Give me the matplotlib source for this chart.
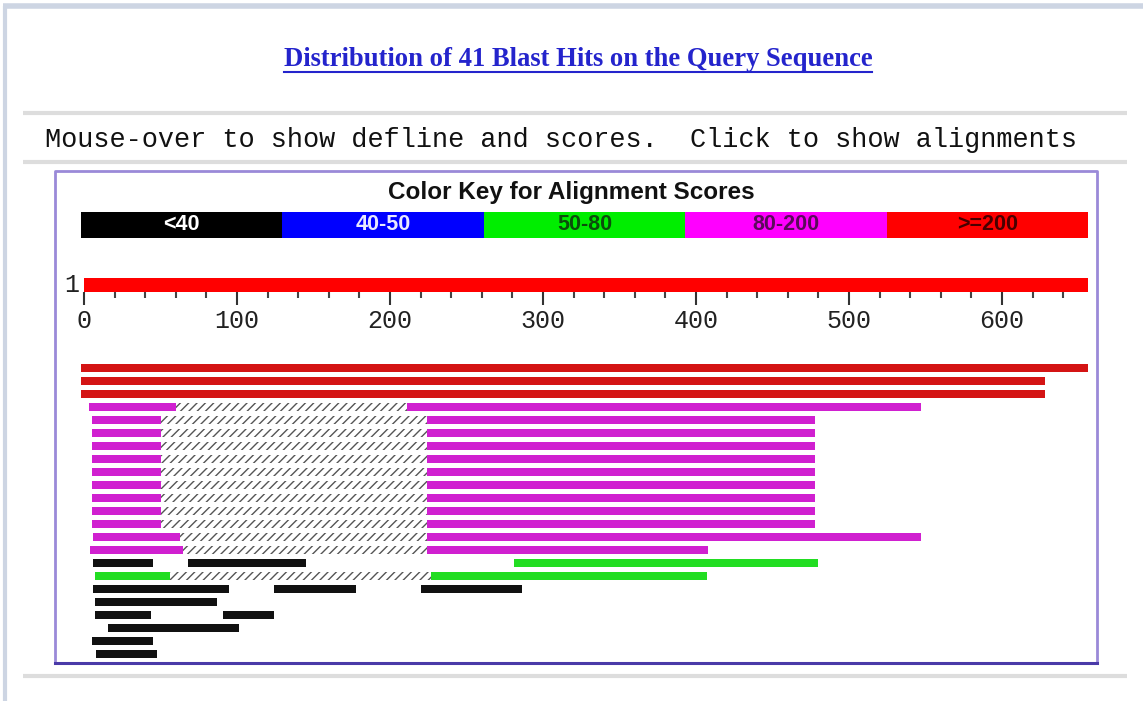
import numpy as np
import matplotlib.pyplot as plt

W, H = 1143, 701

# colour key of the alignment scores
key_labels = ['<40', '40-50', '50-80', '80-200', '>=200']
key_colors = ['#000000', '#0000ff', '#00ee00', '#ff00ff', '#ff0000']
key_text_colors = ['#ffffff', '#e8e8ff', '#0b4d0b', '#5a0a5a', '#4a0000']
hit_colors = {'<40': '#111111', '50-80': '#22dd22', '80-200': '#d020d0', '>=200': '#d41414'}

# query ruler
query_len = 656
ruler_major = [0, 100, 200, 300, 400, 500, 600]
ruler_minor = [20, 40, 60, 80, 120, 140, 160, 180, 220, 240, 260, 280, 320, 340, 360, 380,
               420, 440, 460, 480, 520, 540, 560, 580, 620, 640]

# aligned segments: graphic row, query start, query end, score class
seg_row = [0, 1, 2,
           3, 3,
           4, 4, 5, 5, 6, 6, 7, 7, 8, 8, 9, 9, 10, 10, 11, 11, 12, 12,
           13, 13, 14, 14,
           15, 15, 15,
           16, 16,
           17, 17, 17,
           18, 19, 19, 20, 21, 22]
seg_start = [-2, -2, -2,
             3, 211,
             5, 224, 5, 224, 5, 224, 5, 224, 5, 224, 5, 224, 5, 224, 5, 224, 5, 224,
             6, 224, 4, 224,
             6, 68, 281,
             7, 227,
             6, 124, 220,
             7, 7, 91, 16, 5, 8]
seg_end = [656, 628, 628,
           60, 547,
           50, 478, 50, 478, 50, 478, 50, 478, 50, 478, 50, 478, 50, 478, 50, 478, 50, 478,
           63, 547, 65, 408,
           45, 145, 480,
           56, 407,
           95, 178, 286,
           87, 44, 124, 101, 45, 48]
seg_score = ['>=200', '>=200', '>=200',
             '80-200', '80-200',
             '80-200', '80-200', '80-200', '80-200', '80-200', '80-200', '80-200', '80-200',
             '80-200', '80-200', '80-200', '80-200', '80-200', '80-200', '80-200', '80-200',
             '80-200', '80-200',
             '80-200', '80-200', '80-200', '80-200',
             '<40', '<40', '50-80',
             '50-80', '50-80',
             '<40', '<40', '<40',
             '<40', '<40', '<40', '<40', '<40', '<40']

# gaps between segments of the same hit (hatched)
gap_row = [3, 4, 5, 6, 7, 8, 9, 10, 11, 12, 13, 14, 16]
gap_start = [60, 50, 50, 50, 50, 50, 50, 50, 50, 50, 63, 65, 56]
gap_end = [211, 224, 224, 224, 224, 224, 224, 224, 224, 224, 224, 224, 227]

title = 'Distribution of 41 Blast Hits on the Query Sequence'
subtitle = 'Mouse-over to show defline and scores.  Click to show alignments'

# layout in pixels of the screenshot
x0_px, px_per_res = 84, 1.53        # position of residue 0, pixels per residue
row0_px, row_step = 368, 13.0       # first hit row, row spacing

plt.rcParams['hatch.linewidth'] = 1.0
fig = plt.figure(figsize=(W / 100, H / 100), dpi=100)
fig.patch.set_facecolor('white')


def px_axes(x0, y0, x1, y1):
    return fig.add_axes([x0 / W, 1 - y1 / H, (x1 - x0) / W, (y1 - y0) / H])


def seq_xlim(ax, x0, x1):
    ax.set_xlim((x0 - x0_px) / px_per_res, (x1 - x0_px) / px_per_res)


# page decorations
bg = px_axes(0, 0, W, H)
bg.set_xlim(0, W)
bg.set_ylim(H, 0)
bg.axis('off')
bg.plot([3, W], [6, 6], color='#cdd5e3', lw=4, solid_capstyle='butt')
bg.plot([5, 5], [6, H], color='#cdd5e3', lw=3, solid_capstyle='butt')
for y in [113, 162, 676]:
    bg.plot([23, 1127], [y, y], color='#dddddd', lw=3, solid_capstyle='butt')

t = bg.text(578, 59, title, ha='center', va='center', color='#2424cc',
            fontsize=19.2, fontweight='bold', family='Liberation Serif')
bg.text(45, 140, subtitle, ha='left', va='center', color='#111111',
        fontsize=19.4, family='Liberation Mono')
bg.text(571, 193, 'Color Key for Alignment Scores', ha='center', va='center',
        color='#111111', fontsize=17.5, fontweight='bold', family='Liberation Sans')

# box around the graphic
bg.plot([55, 55, 1097, 1097], [663, 171, 171, 663], color='#9a8ad8', lw=2)
bg.plot([55, 1097], [663, 663], color='#4a3aa8', lw=2.2)

# colour key
axk = px_axes(81, 212, 1088, 238)
axk.barh([0] * len(key_labels), [1] * len(key_labels), left=np.arange(len(key_labels)),
         height=1, color=key_colors)
for i, (lab, tc) in enumerate(zip(key_labels, key_text_colors)):
    axk.text(i + 0.5, 0, lab, ha='center', va='center', color=tc,
             fontsize=15.5, fontweight='bold', family='Liberation Sans')
axk.set_xlim(0, len(key_labels))
axk.set_ylim(-0.5, 0.5)
axk.axis('off')

# ruler
axr = px_axes(55, 278, 1098, 292)
axr.barh(0, query_len, left=0, height=1, color='#ff0000')
seq_xlim(axr, 55, 1098)
axr.set_ylim(-0.5, 0.5)
for s in axr.spines.values():
    s.set_visible(False)
axr.set_yticks([])
axr.set_xticks(ruler_major)
axr.set_xticks(ruler_minor, minor=True)
axr.tick_params(axis='x', which='major', length=9.5, width=1.5, color='#333333',
                labelsize=18, labelcolor='#222222', pad=3)
axr.tick_params(axis='x', which='minor', length=4.5, width=1.5, color='#444444')
for lab in axr.get_xticklabels():
    lab.set_family('Liberation Mono')
axr.text(-3, 0, '1', ha='right', va='center', fontsize=18, color='#222222',
         family='Liberation Mono')
axr.patch.set_alpha(0)

# hits
axh = px_axes(56, 355, 1096, 661)
seq_xlim(axh, 56, 1096)
axh.set_ylim((661 - row0_px) / row_step, (355 - row0_px) / row_step)
axh.axis('off')
axh.barh(gap_row, np.array(gap_end) - np.array(gap_start), left=gap_start, height=0.6,
         fill=False, hatch='////', edgecolor='#555555', linewidth=0)
axh.barh(seg_row, np.array(seg_end) - np.array(seg_start), left=seg_start, height=0.54,
         color=[hit_colors[s] for s in seg_score], linewidth=0)

# underline the title like a link
fig.canvas.draw()
bb = t.get_window_extent().transformed(bg.transData.inverted())
bg.plot([bb.x0, bb.x1], [72, 72], color='#2424cc', lw=1.5)

fig.savefig('out.png', dpi=100)
